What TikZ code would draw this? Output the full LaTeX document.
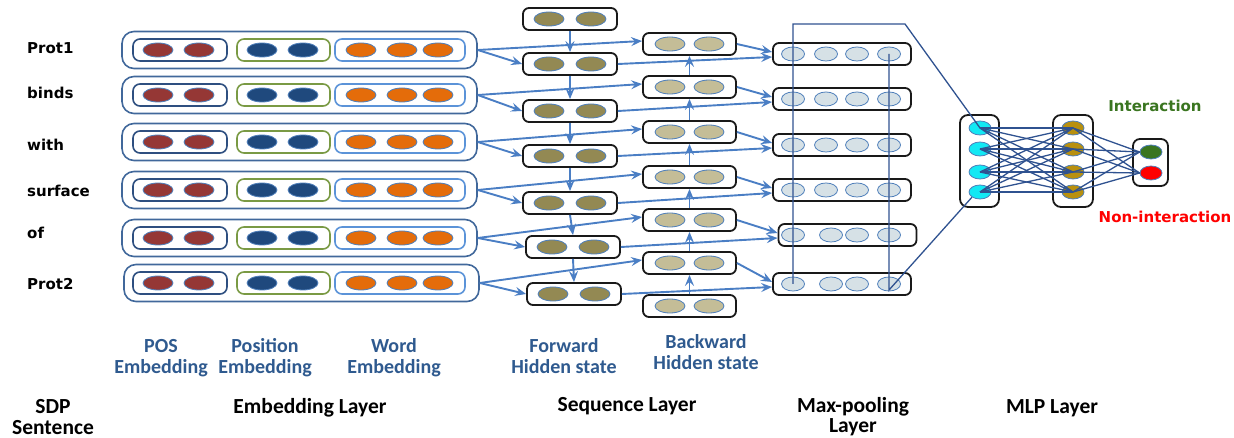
\documentclass[tikz,border=0pt]{standalone}
\usepackage{fontspec}
\setmainfont{Carlito}
\newfontfamily\dvfont{DejaVu Sans}
\usetikzlibrary{shapes.geometric,arrows.meta,calc}
\definecolor{posred}{HTML}{953735}
\definecolor{posblue}{HTML}{1F497D}
\definecolor{worange}{HTML}{E46C0A}
\definecolor{fwdc}{HTML}{938953}
\definecolor{bwdc}{HTML}{C4BD97}
\definecolor{mpc}{HTML}{D6E1E6}
\definecolor{cyanc}{HTML}{12E8F4}
\definecolor{goldc}{HTML}{B8900F}
\definecolor{greenc}{HTML}{3A7520}
\definecolor{arrc}{HTML}{4A7EC4}
\definecolor{mlpc}{HTML}{2F5290}
\definecolor{outerc}{HTML}{41689B}
\definecolor{posboxc}{HTML}{2E4F80}
\definecolor{pboxc}{HTML}{7A9A44}
\definecolor{wboxc}{HTML}{5B93D8}
\definecolor{lblue}{HTML}{2F5A8F}
\definecolor{ellb}{HTML}{4F7FBA}
\begin{document}
\begin{tikzpicture}[x=1pt,y=-1pt,
  outerbox/.style={draw=outerc,line width=1.6pt,rounded corners=12pt,minimum width=355pt,minimum height=37pt,inner sep=0pt},
  posbox/.style={draw=posboxc,line width=1.6pt,rounded corners=7pt,minimum width=94pt,minimum height=22pt,inner sep=0pt},
  pbox/.style={draw=pboxc,line width=1.6pt,rounded corners=7pt,minimum width=93pt,minimum height=22pt,inner sep=0pt},
  wbox/.style={draw=wboxc,line width=1.6pt,rounded corners=7pt,minimum width=130pt,minimum height=22pt,inner sep=0pt},
  blackbox/.style={draw=black!90,line width=1.8pt,rounded corners=6pt,minimum height=22pt,inner sep=0pt},
  ell/.style={ellipse,draw=ellb,line width=0.8pt,minimum width=30pt,minimum height=14pt,inner sep=0pt},
  sell/.style={ellipse,draw=ellb,line width=0.8pt,minimum width=23pt,minimum height=14pt,inner sep=0pt},
  arr/.style={draw=arrc,line width=1.9pt,-{Stealth[length=11pt,width=9pt,inset=4pt]}},
  mlpline/.style={draw=mlpc,line width=1.3pt},
  word/.style={font=\dvfont\bfseries\fontsize{15}{17}\selectfont,anchor=west,inner sep=0pt},
  blbl/.style={font=\bfseries\fontsize{20}{21}\selectfont,text=lblue,anchor=base,inner sep=0pt},
  klbl/.style={font=\bfseries\fontsize{21.5}{23}\selectfont,text=black,anchor=base,inner sep=0pt}
]
\useasboundingbox (0,0) rectangle (1234,438);

% ---------- Embedding layer ----------
\foreach \i/\y/\dx/\w/\wy in {1/50/0/Prot1/48,2/95/0/binds/93,3/142/0/with/145,4/190/0/surface/191,5/238/0/of/233,6/283/2/Prot2/284}{
  \node[word] (t\i) at (27,\wy) {\w};
  \node[outerbox] (e\i) at (299.5+\dx,\y) {};
  \node[posbox] (pos\i) at (180,\y) {};
  \node[pbox] (pp\i) at (283.5,\y) {};
  \node[wbox] (w\i) at (400,\y) {};
  \node[ell,fill=posred] (pa\i) at (158,\y) {};
  \node[ell,fill=posred] (pb\i) at (199,\y) {};
  \node[ell,fill=posblue] (qa\i) at (262,\y) {};
  \node[ell,fill=posblue] (qb\i) at (303,\y) {};
  \node[ell,fill=worange] (wa\i) at (361,\y) {};
  \node[ell,fill=worange] (wb\i) at (402,\y) {};
  \node[ell,fill=worange] (wc\i) at (438,\y) {};
}

% ---------- Sequence layer ----------
\foreach \i/\x/\y in {1/570/19,2/570/64,3/570/111,4/570/156,5/570/203,6/573/247,7/574/294}{
  \node[blackbox,minimum width=94pt] (f\i) at (\x,\y) {};
  \node[ell,fill=fwdc] (fa\i) at (\x-21,\y) {};
  \node[ell,fill=fwdc] (fb\i) at (\x+21,\y) {};
}
\foreach \i/\y in {1/44,2/87,3/132,4/177,5/220,6/263,7/306}{
  \node[blackbox,minimum width=93pt] (b\i) at (689.5,\y) {};
  \node[ell,fill=bwdc] (ba\i) at (670,\y) {};
  \node[ell,fill=bwdc] (bb\i) at (709,\y) {};
}

% ---------- Max-pooling layer ----------
\foreach \i/\x/\y/\xb in {1/842/54/826,2/842/99/826,3/842/145/826,4/842/190/826,5/847.5/235/831,6/842/284/831}{
  \node[blackbox,minimum width=138pt] (m\i) at (\x,\y) {};
  \node[sell,fill=mpc] (ma\i) at (793,\y) {};
  \node[sell,fill=mpc] (mb\i) at (\xb,\y) {};
  \node[sell,fill=mpc] (mc\i) at (857,\y) {};
  \node[sell,fill=mpc] (md\i) at (889,\y) {};
}

% ---------- connectors of the sequence layer ----------
\foreach \i/\j in {1/2,2/3,3/4,4/5,5/6,6/7}{
  \draw[arr] (e\i.east) -- ([yshift=3pt]b\i.west);
  \draw[arr] (e\i.east) -- (f\j.west);
  \draw[arr] (f\i.south) -- (f\j.north);
  \draw[arr] (b\j.north) -- (b\i.south);
  \draw[arr] (b\i.east) -- ([yshift=2pt]m\i.west);
  \draw[arr] (f\j.east) -- ([yshift=-3pt]m\i.west);
}

% ---------- MLP layer ----------
\node[draw=black!90,line width=1.8pt,rounded corners=8pt,minimum width=39pt,minimum height=92pt,inner sep=0pt] (h1) at (979.5,161) {};
\node[draw=black!90,line width=1.8pt,rounded corners=8pt,minimum width=40pt,minimum height=92pt,inner sep=0pt] (h2) at (1073,161) {};
\node[draw=black!90,line width=1.8pt,rounded corners=7pt,minimum width=35pt,minimum height=47pt,inner sep=0pt] (h3) at (1150.5,162.5) {};
\foreach \i/\y in {1/128,2/149,3/172,4/192}{
  \node[ellipse,draw=ellb,line width=0.8pt,fill=cyanc,minimum width=22pt,minimum height=14pt,inner sep=0pt] (c\i) at (980,\y) {};
  \node[ellipse,draw=ellb,line width=0.8pt,fill=goldc,minimum width=22pt,minimum height=14pt,inner sep=0pt] (g\i) at (1073,\y) {};
}
\node[ellipse,draw=ellb,line width=0.8pt,fill=greenc,minimum width=22pt,minimum height=14pt,inner sep=0pt] (og) at (1151,152) {};
\node[ellipse,draw=ellb,line width=0.8pt,fill=red,minimum width=22pt,minimum height=14pt,inner sep=0pt] (orr) at (1151,173) {};
\foreach \i in {1,2,3,4}{
  \foreach \j in {1,2,3,4}{
    \draw[mlpline] (c\i.center) -- (g\j.center);
  }
  \draw[mlpline] (g\i.center) -- (og.west);
  \draw[mlpline] (g\i.center) -- (orr.west);
}

% ---------- max-pooling to MLP ----------
\coordinate (tl) at (793,24);
\coordinate (tr) at (905,24);
\coordinate (br) at (889,290);
\draw[mlpline] (ma6.center) -- (tl) -- (tr) -- (c1.center);
\draw[mlpline] (md1.center) -- (br) -- (c4.south west);

% ---------- labels ----------
\node[font=\dvfont\bfseries\fontsize{15}{17}\selectfont,text=greenc,inner sep=0pt] (lint) at (1155,106) {Interaction};
\node[font=\dvfont\bfseries\fontsize{15}{17}\selectfont,text=red,inner sep=0pt] (lnon) at (1165,217) {Non-interaction};

\node[blbl] (lposa) at (161,352) {POS};
\node[blbl] (lposb) at (161,373) {Embedding};
\node[blbl] (lposia) at (265,352) {Position};
\node[blbl] (lposib) at (265,373) {Embedding};
\node[blbl] (lworda) at (394,352) {Word};
\node[blbl] (lwordb) at (394,373) {Embedding};
\node[blbl] (lfwda) at (564,352) {Forward};
\node[blbl] (lfwdb) at (564,373) {Hidden state};
\node[blbl] (lbwda) at (706,348) {Backward};
\node[blbl] (lbwdb) at (706,369) {Hidden state};

\node[klbl] (lsdpa) at (53,413) {SDP};
\node[klbl] (lsdpb) at (53,434) {Sentence};
\node[klbl] (lemb) at (310,413) {Embedding Layer};
\node[klbl] (lseq) at (627,411) {Sequence Layer};
\node[klbl] (lmaxa) at (853,412.5) {Max-pooling};
\node[klbl] (lmaxb) at (853,432.5) {Layer};
\node[klbl] (lmlp) at (1052,413) {MLP Layer};
\end{tikzpicture}
\end{document}
